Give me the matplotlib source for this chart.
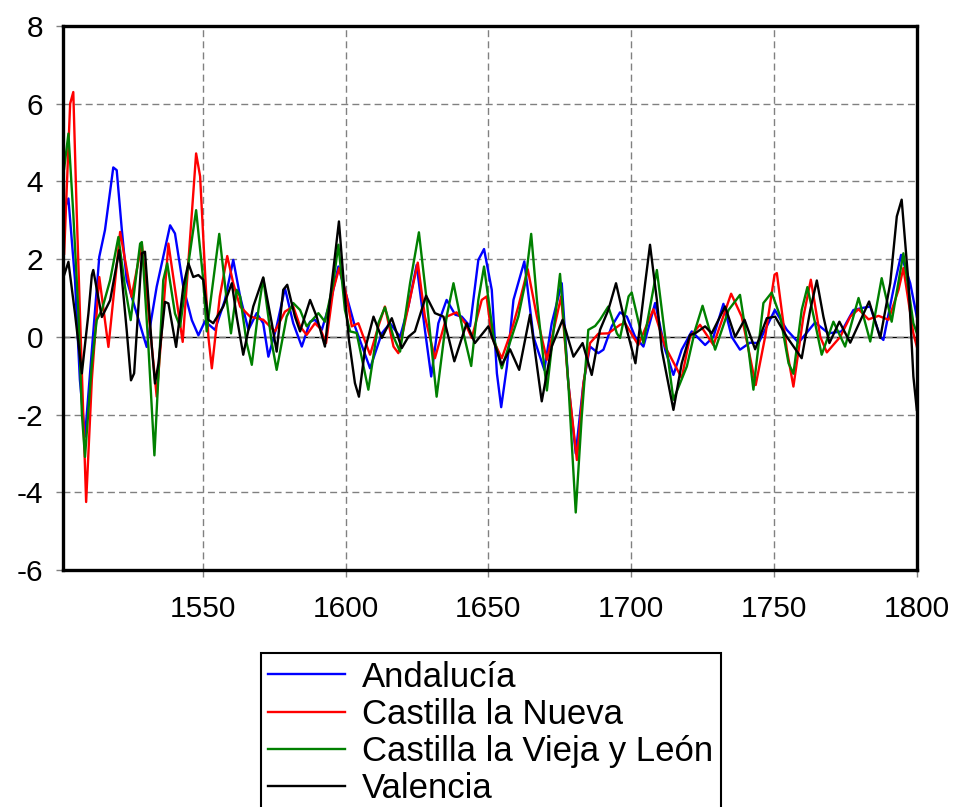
import matplotlib
matplotlib.use("Agg")
import matplotlib.pyplot as plt

plt.rcParams['font.family'] = ['Liberation Sans', 'DejaVu Sans']
plt.rcParams['axes.unicode_minus'] = False

# Andalucía
and_years = [1501.5, 1503, 1505.3, 1507, 1508.8, 1513.8, 1515.8, 1518.7, 1519.9, 1521.7, 1523.4,
             1526.9, 1530.4, 1533.9, 1538.6, 1540.3, 1543.2, 1546.2, 1548.5, 1550.8, 1554.3,
             1557.8, 1560.7, 1563.1, 1566, 1568.9, 1571.2, 1573, 1575.9, 1578.8, 1581.7, 1584.7,
             1587.6, 1589.3, 1591.7, 1595.2, 1597.5, 1600.4, 1603.3, 1608.6, 1612.7, 1615.6,
             1619.1, 1622, 1624.9, 1627.8, 1630, 1632.5, 1635.4, 1638.4, 1640.7, 1643.6, 1646.5,
             1648.5, 1651.2, 1653, 1654.5, 1656.5, 1658.8, 1662.6, 1665.8, 1669.6, 1672.2, 1675.7,
             1678, 1680.6, 1683.3, 1685.6, 1688.5, 1690.3, 1693.2, 1696.1, 1698.5, 1701.4, 1704.3,
             1708.4, 1711.9, 1714.8, 1717.7, 1721.2, 1725.9, 1728.8, 1732.3, 1735.2, 1738.1,
             1741.6, 1744.6, 1750.3, 1754.5, 1758.6, 1764.4, 1769.1, 1773.7, 1777.8, 1780.7,
             1783.7, 1787.2, 1788.3, 1791.8, 1794.5, 1797.7, 1800]
and_vals = [3.26, 3.56, 1.46, -1.1, -2.57, 2.06, 2.75, 4.36, 4.29, 2.75, 1.46,
            0.6, -0.26, 1.29, 2.87, 2.66, 1.29, 0.43, 0.04, 0.4, 0.18,
            0.95, 1.98, 1.04, 0.18, 0.61, 0.35, -0.51, 0.27, 1.25, 0.35, -0.25,
            0.39, 0.44, 0.18, 1.04, 1.81, 1.04, 0.27, -0.81, 0.09, 0.35,
            0.0, 0.78, 1.85, 0.18, -1.02, 0.35, 0.95, 0.57, 0.52, 0.27, 1.98,
            2.26, 1.21, -0.94, -1.81, -0.76, 0.95, 1.94, 0.0, -0.85, 0.35, 1.38,
            -1.19, -3.0, -1.19, -0.25, -0.42, -0.33, 0.27, 0.63, 0.52, 0.0, -0.25,
            0.87, -0.33, -0.98, -0.33, 0.14, -0.21, 0.0, 0.85, 0.0, -0.33,
            -0.15, -0.16, 0.69, 0.18, -0.15, 0.37, 0.09, 0.14, 0.69, 0.74,
            0.78, 0.0, -0.08, 1.21, 2.11, 1.38, 0.52]

# Castilla la Nueva
cln_years = [1501.5, 1503.6, 1504.7, 1505.9, 1507.3, 1509.2, 1511.2, 1513.8, 1517, 1521.1, 1525.1,
             1528.7, 1533.9, 1538, 1543, 1547.7, 1549.1, 1552, 1553.2, 1556, 1558.6, 1560.7,
             1563.1, 1566.6, 1568.9, 1571.2, 1575.3, 1578.8, 1581.7, 1584.1, 1586.4, 1589.3,
             1591.1, 1593.2, 1595.7, 1597.8, 1600.4, 1602.2, 1604.5, 1608.6, 1611.5, 1613.8,
             1616.8, 1618.5, 1622, 1625.3, 1627.8, 1631.3, 1635.4, 1638.9, 1641.9, 1644.2,
             1647.7, 1649.4, 1651.2, 1654.7, 1658.2, 1660.5, 1663.8, 1667, 1670.5, 1673.4,
             1675.5, 1678, 1681, 1683.3, 1685.6, 1688.5, 1692, 1696.1, 1697.9, 1702.5, 1707.8,
             1711.9, 1717.7, 1720.6, 1724.1, 1728.8, 1735, 1738.7, 1741.1, 1743.6, 1746.9,
             1750.2, 1751, 1754.5, 1756.8, 1760.3, 1762.9, 1766.2, 1768.5, 1773.2, 1776.7,
             1779.6, 1783.1, 1786.6, 1790.1, 1793.6, 1795.3, 1798.8, 1800]
cln_vals = [2.14, 6.0, 6.3, 3.2, 0.0, -4.25, -1.1, 1.54, -0.26, 2.7, 1.03,
            2.4, -1.54, 2.4, -0.13, 4.72, 4.13, 0.0, -0.81, 1.04, 2.08, 1.38,
            0.78, 0.52, 0.48, 0.44, 0.14, 0.65, 0.78, 0.27, 0.05, 0.35,
            0.22, -0.16, 1.21, 1.77, 1.04, 0.27, 0.35, -0.46, 0.27, 0.78,
            -0.25, -0.42, 0.78, 1.91, 0.52, -0.55, 0.52, 0.63, 0.35, -0.03,
            0.95, 1.04, 0.0, -0.55, 0.18, 0.78, 1.74, 0.52, -0.59, 0.35,
            1.04, -1.19, -3.17, -1.19, -0.16, 0.08, 0.09, 0.31, 0.35, -0.21, 0.71,
            -0.25, -1.06, 0.0, 0.31, -0.21, 1.11, 0.52, -0.33, -1.24, 0.0,
            1.6, 1.64, -0.33, -1.28, 0.52, 1.47, 0.0, -0.4, 0.0, 0.52,
            0.71, 0.45, 0.54, 0.44, 1.21, 1.77, 0.09, -0.25]

# Castilla la Vieja y León
cvl_years = [1501.5, 1503, 1504.7, 1506.5, 1507.7, 1508.8, 1511.2, 1512.9, 1514.7, 1517.6, 1520.5,
             1522.8, 1524.8, 1528.1, 1528.7, 1531, 1533.1, 1536.2, 1537.6, 1540.3, 1542.1, 1545,
             1547.7, 1550.2, 1551.4, 1555.8, 1558.4, 1559.9, 1561.9, 1563.1, 1565.4, 1567.2,
             1569.5, 1571.2, 1574.2, 1575.9, 1579.4, 1581.7, 1584.1, 1586.4, 1590.5, 1592.8,
             1595.7, 1597.5, 1599.8, 1601.6, 1603.9, 1606.3, 1608, 1611.5, 1613.8, 1616.8,
             1619.1, 1622.6, 1625.7, 1628.4, 1631.9, 1635.4, 1637.8, 1641.3, 1644, 1646.5,
             1648.5, 1651.8, 1654.7, 1658.2, 1660.5, 1662.9, 1665, 1667, 1670.5, 1673.4, 1675.1,
             1678, 1680.6, 1682.7, 1685, 1687.4, 1689.1, 1692, 1695, 1696.1, 1699.1, 1700.2,
             1704.3, 1709, 1711.9, 1714.8, 1719.5, 1722.4, 1725, 1729.4, 1734.1, 1738.1, 1741.1,
             1742.8, 1746.3, 1749.2, 1752.2, 1755.1, 1756.8, 1759.7, 1761.7, 1764.4, 1766.7,
             1770.8, 1774.9, 1779.6, 1783.7, 1787.7, 1791.2, 1795.3, 1798.8, 1800]
cvl_vals = [4.33, 5.23, 3.17, 0.6, -1.97, -3.09, -0.69, 0.43, 0.69, 1.46, 2.57,
            1.29, 0.43, 2.4, 2.44, -0.26, -3.05, 1.46, 1.89, 0.6, 0.26, 1.89,
            3.26, 1.46, 0.14, 2.65, 0.95, 0.09, 1.21, 1.04, -0.16, -0.72,
            0.69, 1.51, -0.16, -0.85, 0.52, 0.87, 0.69, 0.27, 0.61, 0.39,
            1.38, 2.37, 0.69, 0.14, 0.1, -0.76, -1.36, 0.35, 0.76, 0.0,
            -0.38, 1.38, 2.69, 0.95, -1.54, 0.52, 1.38, 0.09, -0.75, 0.95,
            1.81, 0.0, -0.81, 0.0, 0.52, 1.38, 2.65, 0.95, -1.38, 0.52, 1.62,
            -1.19, -4.52, -2.05, 0.18, 0.28, 0.44, 0.78, 0.09, -0.03, 1.04, 1.14,
            -0.16, 1.72, 0.0, -1.62, -0.76, 0.18, 0.8, -0.33, 0.69, 1.08, -0.33,
            -1.36, 0.87, 1.14, 0.52, -0.68, -0.95, 0.69, 1.28, 0.35, -0.46,
            0.39, -0.25, 1.0, -0.12, 1.51, 0.39, 2.15, 0.35, 0.1]

# Valencia
val_years = [1501.5, 1503, 1505.3, 1507.7, 1510, 1511.2, 1511.7, 1514.7, 1517.6, 1520.8, 1523.4,
             1524.9, 1526, 1528.7, 1529.8, 1532.2, 1533.3, 1534.5, 1536.8, 1538, 1540.7, 1543.2,
             1545, 1546.7, 1548.5, 1550.2, 1552, 1553.7, 1557.2, 1560.2, 1561.9, 1564.2, 1567.7,
             1571.2, 1574.2, 1575.9, 1578.2, 1579.6, 1582.3, 1584.1, 1587.6, 1589.9, 1592.8,
             1595.2, 1597.7, 1599.6, 1601.2, 1603.3, 1604.7, 1606.8, 1609.8, 1612.7, 1616.2,
             1619.7, 1622, 1624.3, 1628.2, 1631.3, 1634.3, 1638.1, 1642.4, 1645.3, 1650,
             1654.7, 1657.6, 1660.8, 1664.6, 1668.7, 1672.2, 1676, 1679.8, 1683, 1686.2, 1689.1,
             1692, 1694.7, 1697.9, 1701.5, 1704.9, 1706.6, 1709, 1710.7, 1714.8, 1717.7, 1720.6,
             1722.4, 1725.9, 1728.2, 1732.9, 1736.4, 1739.7, 1743.4, 1747.5, 1750.4, 1754.5,
             1759.7, 1762.7, 1765, 1767.3, 1769.4, 1772.9, 1776.7, 1783.3, 1787.2, 1790.7, 1793,
             1794.7, 1797.1, 1798.8, 1800]
val_vals = [1.59, 1.93, 0.6, -0.94, 0.6, 1.59, 1.72, 0.51, 0.94, 2.23, 0.17,
            -1.12, -0.94, 2.15, 2.19, -0.26, -1.2, -0.69, 0.9, 0.86, -0.26, 1.29,
            1.89, 1.54, 1.59, 1.47, 0.44, 0.35, 0.78, 1.38, 0.52, -0.46, 0.78,
            1.53, 0.35, -0.38, 1.21, 1.34, 0.52, 0.14, 0.95, 0.52, -0.25,
            1.38, 2.97, 1.2, -0.08, -1.19, -1.54, -0.33, 0.52, -0.03, 0.48,
            -0.29, 0.0, 0.14, 1.06, 0.61, 0.52, -0.63, 0.35, -0.16, 0.27,
            -0.72, -0.32, -0.85, 0.57, -1.66, -0.25, 0.44, -0.51, -0.16, -0.98, 0.18,
            0.69, 1.38, 0.35, -0.68, 1.38, 2.37, 0.95, -0.33, -1.88, -0.68, 0.05,
            0.09, 0.27, 0.09, 0.78, 0.0, 0.44, -0.32, 0.48, 0.52, 0.0,
            -0.55, 0.69, 1.45, 0.52, -0.16, 0.39, -0.15, 0.91, -0.03, 1.38, 3.1,
            3.53, 1.38, -1.02, -1.88]

series = [
    ("Andalucía", and_years, and_vals, "#0000FF"),
    ("Castilla la Nueva", cln_years, cln_vals, "#FF0000"),
    ("Castilla la Vieja y León", cvl_years, cvl_vals, "#008000"),
    ("Valencia", val_years, val_vals, "#000000"),
]

fig = plt.figure(figsize=(9.56, 8.07), dpi=100)
ax = fig.add_axes([0.0656, 0.2937, 0.8934, 0.6741])

ax.axhline(0, color="black", lw=1.0, zorder=1)
for name, yrs, vals, col in series:
    ax.plot(yrs, vals, color=col, lw=1.7, label=name, zorder=2)

ax.set_xlim(1501, 1800)
ax.set_ylim(-6, 8)
ax.set_xticks([1550, 1600, 1650, 1700, 1750, 1800])
ax.set_yticks([-6, -4, -2, 0, 2, 4, 6, 8])
ax.grid(True, color="#808080", linestyle=(0, (5, 3)), lw=1.0)
ax.tick_params(direction="out", length=5, width=1, color="#808080", labelsize=21.5)
ax.tick_params(axis="x", pad=13)
ax.tick_params(axis="y", pad=9)
for sp in ax.spines.values():
    sp.set_linewidth(2.4)

leg = fig.legend(loc="upper left", bbox_to_anchor=(0.2725, 0.191), fontsize=25,
                 frameon=True, fancybox=False, edgecolor="black", framealpha=1,
                 handlelength=2.2, handletextpad=0.5, labelspacing=0.12,
                 borderpad=0.22, borderaxespad=0)
leg.get_frame().set_linewidth(1.5)

fig.savefig("out.png", dpi=100)
